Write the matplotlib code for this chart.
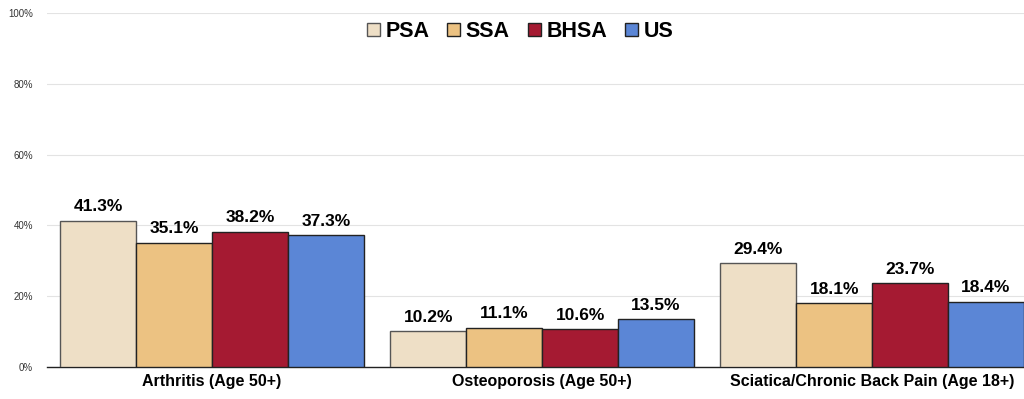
import numpy as np
import matplotlib.pyplot as plt

plt.rcParams['font.family'] = ['Liberation Sans', 'DejaVu Sans']

categories = ['Arthritis (Age 50+)', 'Osteoporosis (Age 50+)', 'Sciatica/Chronic Back Pain (Age 18+)']
series = ['PSA', 'SSA', 'BHSA', 'US']
values = {
    'PSA': [41.3, 10.2, 29.4],
    'SSA': [35.1, 11.1, 18.1],
    'BHSA': [38.2, 10.6, 23.7],
    'US': [37.3, 13.5, 18.4],
}
colors = {'PSA': '#EEDFC6', 'SSA': '#ECC282', 'BHSA': '#A51A32', 'US': '#5B86D6'}
edges = {'PSA': '#555555', 'SSA': '#222222', 'BHSA': '#222222', 'US': '#222222'}

fig = plt.figure(figsize=(10.24, 3.99), dpi=100)
ax = fig.add_axes([0.0459, 0.0802, 0.967, 0.8872])

x = np.arange(len(categories))
w = 0.23
for i, s in enumerate(series):
    pos = x + (i - 1.5) * w
    bars = ax.bar(pos, values[s], w, color=colors[s], edgecolor=edges[s], linewidth=1.0,
                  label=s, zorder=3)
    for b, v in zip(bars, values[s]):
        ax.text(b.get_x() + b.get_width() / 2, v + 1.8, f'{v}%', ha='center', va='bottom',
                fontsize=12.5, fontweight='bold')

ax.set_xlim(-0.5, 2.5)
ax.set_ylim(0, 100)
ax.set_yticks(range(0, 101, 20))
ax.set_yticklabels([f'{t}%' for t in range(0, 101, 20)], fontsize=7, color='#333333')
ax.set_xticks(x)
ax.set_xticklabels(categories, fontsize=11.5, fontweight='bold')
ax.tick_params(axis='both', length=0, pad=10)
ax.tick_params(axis='x', pad=5)
ax.grid(axis='y', color='#E3E3E3', linewidth=0.8, zorder=0)
for side in ['left', 'right', 'top']:
    ax.spines[side].set_visible(False)
ax.spines['bottom'].set_color('#222222')
ax.spines['bottom'].set_linewidth(1.0)

# legend centred on the figure, near the top
leg = fig.legend(*ax.get_legend_handles_labels(), loc='upper center',
                 bbox_to_anchor=(0.508, 0.985), ncol=4, frameon=False,
                 prop={'size': 15.5, 'weight': 'bold'}, handlelength=0.6, handleheight=0.6,
                 handletextpad=0.25, columnspacing=0.85, borderaxespad=0.3)

fig.savefig('out.png', dpi=100)
